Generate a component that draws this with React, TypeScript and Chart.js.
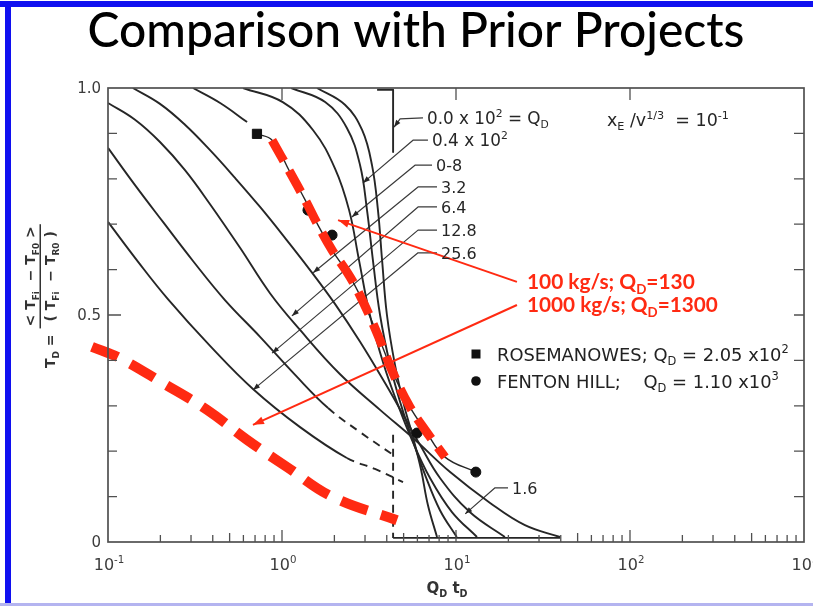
import React, { useEffect, useRef } from "react";
import { Chart, registerables } from "chart.js";
Chart.register(...registerables);

// ---------------- data ----------------
const titleText = "Comparison with Prior Projects";
const xDecadeExponents = [-1, 0, 1, 2, 3];
const yMajorTicks = [0, 0.5, 1];
const yMajorLabels = ["0", "0.5", "1.0"];

// model curves, x = Q_D t_D, y = T_D  (Q_D in units of 10^2)
const q04X = [1.59, 2.3, 2.89, 3.29, 3.56, 3.76, 4.01, 4.46, 5.02, 5.66, 6.3, 6.9, 7.78];
const q04Y = [1.0, 0.963, 0.907, 0.83, 0.731, 0.621, 0.5, 0.39, 0.302, 0.231, 0.159, 0.081, 0.011];
const q08X = [1.13, 1.77, 2.36, 2.81, 3.08, 3.33, 3.66, 4.18, 4.83, 5.58, 6.64, 8.09, 10.1];
const q08Y = [1.0, 0.969, 0.912, 0.83, 0.731, 0.621, 0.5, 0.39, 0.302, 0.229, 0.148, 0.07, 0.011];
const q16X = [0.597, 1.01, 1.51, 2.02, 2.43, 2.77, 3.2, 3.85, 4.64, 5.58, 7.09, 9.48, 13.2];
const q16Y = [1.0, 0.969, 0.907, 0.822, 0.731, 0.621, 0.5, 0.39, 0.302, 0.225, 0.141, 0.066, 0.011];
const q32X = [0.139, 0.199, 0.277, 0.386, 0.537, 0.748, 1.04, 1.45, 2.02, 2.81, 3.91, 5.09, 6.21, 8.09, 12.0, 19.1];
const q32Y = [1.0, 0.965, 0.919, 0.863, 0.802, 0.738, 0.67, 0.599, 0.524, 0.441, 0.35, 0.273, 0.214, 0.141, 0.066, 0.011];
const q64X = [0.1, 0.143, 0.199, 0.277, 0.386, 0.574, 0.853, 1.27, 2.15, 3.66, 5.66, 9.25, 15.7, 24.9, 39.6];
const q64Y = [0.967, 0.93, 0.881, 0.819, 0.744, 0.648, 0.548, 0.467, 0.37, 0.291, 0.229, 0.154, 0.086, 0.037, 0.011];
// curves whose end (from the given index on) is drawn dashed
const q128X = [0.1, 0.143, 0.207, 0.308, 0.47, 0.748, 1.19, 1.84, 2.81, 4.35];
const q128Y = [0.868, 0.786, 0.705, 0.619, 0.533, 0.452, 0.368, 0.295, 0.242, 0.192];
const q128DashFrom = 7;
const q256X = [0.1, 0.149, 0.221, 0.386, 0.681, 1.27, 2.36, 3.42, 4.96];
const q256Y = [0.705, 0.617, 0.535, 0.432, 0.337, 0.253, 0.185, 0.161, 0.132];
const q256DashFrom = 6;
const partialX = [0.308, 0.441, 0.63];
const partialY = [1.0, 0.967, 0.925];
// Q_D = 0 step
const stepTopX = [3.52, 4.35, 4.35];
const stepTopY = [0.996, 0.996, 0.859];
const stepDashX = [4.35, 4.35];
const stepDashY = [0.236, 0.009];
const stepBottomX = [4.35, 39.6];
const stepBottomY = [0.009, 0.009];

// field data
const fieldLineX = [0.718, 0.877, 1.11, 1.36, 1.61, 1.94, 2.46, 2.89, 3.52, 4.35, 5.44, 6.64, 8.65, 13.0];
const fieldLineY = [0.899, 0.885, 0.815, 0.753, 0.698, 0.643, 0.584, 0.533, 0.46, 0.372, 0.297, 0.247, 0.187, 0.154];
const rosemanowesX = [0.718];
const rosemanowesY = [0.899];
const fentonX = [1.41, 1.94, 5.97, 13.0];
const fentonY = [0.731, 0.676, 0.24, 0.154];

// red overlays
const red130X = [0.877, 1.11, 1.36, 1.61, 1.94, 2.46, 2.89, 3.52, 4.35, 5.44, 6.64, 8.65];
const red130Y = [0.885, 0.815, 0.753, 0.698, 0.643, 0.584, 0.533, 0.46, 0.372, 0.297, 0.247, 0.187];
const red1300X = [0.0809, 0.117, 0.207, 0.371, 0.63, 1.07, 1.96, 4.58];
const red1300Y = [0.43, 0.405, 0.35, 0.291, 0.225, 0.165, 0.099, 0.048];
const arrow130X = [22.4, 2.1];
const arrow130Y = [0.573, 0.709];
const arrow1300X = [22.4, 0.681];
const arrow1300Y = [0.522, 0.258];
const redLabels = ["100 kg/s; Q|D|=130", "1000 kg/s; Q|D|=1300"];

// curve label leaders
const leaderLabels = ["0.0", "0.4", "0-8", "3.2", "6.4", "12.8", "25.6", "1.6"];
const leaderX = [
  [6.46, 4.77, 4.41],
  [6.9, 5.66, 2.92],
  [7.28, 5.81, 2.52],
  [7.78, 6.05, 1.51],
  [7.78, 6.05, 1.14],
  [7.78, 6.05, 0.877],
  [7.78, 6.05, 0.681],
  [19.9, 16.7, 11.3],
];
const leaderY = [
  [0.934, 0.932, 0.914],
  [0.885, 0.885, 0.791],
  [0.83, 0.83, 0.716],
  [0.782, 0.782, 0.593],
  [0.738, 0.738, 0.498],
  [0.687, 0.687, 0.416],
  [0.637, 0.637, 0.335],
  [0.119, 0.119, 0.062],
];

// ---------------- helpers ----------------
const pts = (xs: number[], ys: number[]) => xs.map((x, i) => ({ x, y: ys[i] }));
type Part = { t: string; k?: "sup" | "sub" };

function richWidth(ctx: any, parts: Part[], size: number, family: string, weight: string) {
  let w = 0;
  for (const p of parts) {
    const s = p.k ? size * 0.64 : size;
    ctx.font = `${weight} ${s}px ${family}`;
    w += ctx.measureText(p.t).width;
  }
  return w;
}
function drawRich(ctx: any, parts: Part[], x: number, y: number, size: number, family: string, weight: string, color: string) {
  ctx.fillStyle = color;
  ctx.textBaseline = "alphabetic";
  ctx.textAlign = "left";
  let cx = x;
  for (const p of parts) {
    const s = p.k ? size * 0.64 : size;
    ctx.font = `${weight} ${s}px ${family}`;
    const dy = p.k === "sup" ? -size * 0.42 : p.k === "sub" ? size * 0.25 : 0;
    ctx.fillText(p.t, cx, y + dy);
    cx += ctx.measureText(p.t).width;
  }
  return cx - x;
}
function fit(ctx: any, parts: Part[], target: number, family: string, weight: string) {
  return (100 * target) / richWidth(ctx, parts, 100, family, weight);
}
function parseSub(s: string): Part[] {
  const seg = s.split("|");
  return seg.map((t, i) => (i % 2 === 1 ? { t, k: "sub" as const } : { t }));
}
function arrowHead(ctx: any, x1: number, y1: number, x2: number, y2: number, len: number, half: number, color: string) {
  const a = Math.atan2(y2 - y1, x2 - x1);
  ctx.save();
  ctx.fillStyle = color;
  ctx.beginPath();
  ctx.moveTo(x2, y2);
  ctx.lineTo(x2 - len * Math.cos(a) + half * Math.sin(a), y2 - len * Math.sin(a) - half * Math.cos(a));
  ctx.lineTo(x2 - len * Math.cos(a) - half * Math.sin(a), y2 - len * Math.sin(a) + half * Math.cos(a));
  ctx.closePath();
  ctx.fill();
  ctx.restore();
}

const INK = "#262626";
const AXIS = "#505050";
const RED = "#ff2a12";
const FIG_FONT = "'DejaVu Sans'";

const overlay = {
  id: "overlay",
  beforeDraw(chart: any) {
    const ctx = chart.ctx;
    ctx.save();
    ctx.fillStyle = "#ffffff";
    ctx.fillRect(0, 0, chart.width, chart.height);
    // slide frame
    ctx.fillStyle = "#1010f0";
    ctx.fillRect(0, 1, chart.width, 6);
    ctx.fillRect(5, 1, 6, chart.height);
    ctx.fillStyle = "#b4b4f0";
    ctx.fillRect(0, chart.height - 3, chart.width, 3);
    // title
    const tp: Part[] = [{ t: titleText }];
    const ts = fit(ctx, tp, 657, "Lato", "500");
    ctx.font = `500 ${ts}px Lato`;
    ctx.fillStyle = "#000";
    ctx.textAlign = "center";
    ctx.textBaseline = "alphabetic";
    ctx.fillText(titleText, 416, 47);
    ctx.restore();
  },
  afterDatasetsDraw(chart: any) {
    const ctx = chart.ctx;
    const xs = chart.scales.x;
    const ys = chart.scales.y;
    const { left, right, top, bottom } = chart.chartArea;
    const px = (v: number) => xs.getPixelForValue(v);
    const py = (v: number) => ys.getPixelForValue(v);
    ctx.save();
    // frame
    ctx.strokeStyle = AXIS;
    ctx.lineWidth = 1.7;
    ctx.strokeRect(left, top, right - left, bottom - top);
    ctx.lineWidth = 1.3;
    ctx.beginPath();
    for (let i = 1; i < 10; i++) {
      const y = py(i / 10);
      const l = i === 5 ? 13 : 9;
      ctx.moveTo(left, y);
      ctx.lineTo(left + l, y);
      ctx.moveTo(right, y);
      ctx.lineTo(right - 10, y);
    }
    for (let e = -1; e < 3; e++) {
      for (let m = 1; m < 10; m++) {
        const v = m * Math.pow(10, e);
        const x = px(v);
        const l = m === 1 ? 12 : m === 5 ? 9 : 7;
        if (m !== 1 || e > -1) {
          ctx.moveTo(x, bottom);
          ctx.lineTo(x, bottom - l);
        }
      }
    }
    for (const e of [0, 1, 2]) {
      const x = px(Math.pow(10, e));
      ctx.moveTo(x, top);
      ctx.lineTo(x, top + 12);
    }
    ctx.stroke();

    // y tick labels
    ctx.fillStyle = "#3c3c3c";
    ctx.font = `normal 15px ${FIG_FONT}`;
    ctx.textAlign = "right";
    ctx.textBaseline = "middle";
    yMajorTicks.forEach((v, i) => {
      ctx.fillText(yMajorLabels[i], left - 7, py(v) + 1);
    });
    // x tick labels
    xDecadeExponents.forEach((e) => {
      const parts: Part[] = [{ t: "10" }, { t: e < 0 ? "-" + Math.abs(e) : String(e), k: "sup" }];
      const w = richWidth(ctx, parts, 16, FIG_FONT, "normal");
      drawRich(ctx, parts, px(Math.pow(10, e)) - w / 2 + 1, bottom + 28, 16, FIG_FONT, "normal", "#3c3c3c");
    });
    // x axis title
    {
      const parts: Part[] = [{ t: "Q" }, { t: "D", k: "sub" }, { t: " t" }, { t: "D", k: "sub" }];
      const w = richWidth(ctx, parts, 15, FIG_FONT, "bold");
      drawRich(ctx, parts, 447 - w / 2, 593, 15, FIG_FONT, "bold", "#333");
    }
    // y axis title (rotated)
    {
      ctx.save();
      ctx.translate(40, 368);
      ctx.rotate(-Math.PI / 2);
      const fs = 14;
      const w = drawRich(ctx, [{ t: "T" }, { t: "D", k: "sub" }, { t: " =" }], 0, 15, fs, FIG_FONT, "bold", "#333");
      const u0 = w + 6;
      const num: Part[] = [{ t: "< T" }, { t: "Fi", k: "sub" }, { t: "  − T" }, { t: "F0", k: "sub" }, { t: " >" }];
      const den: Part[] = [{ t: "( T" }, { t: "Fi", k: "sub" }, { t: "  − T" }, { t: "R0", k: "sub" }, { t: " )" }];
      const nw = richWidth(ctx, num, fs, FIG_FONT, "bold");
      const dw = richWidth(ctx, den, fs, FIG_FONT, "bold");
      const fw = Math.max(nw, dw) + 4;
      drawRich(ctx, num, u0 + (fw - nw) / 2, -5, fs, FIG_FONT, "bold", "#333");
      ctx.fillStyle = "#333";
      ctx.fillRect(u0, -0.5, fw, 1.5);
      drawRich(ctx, den, u0 + (fw - dw) / 2, 15, fs, FIG_FONT, "bold", "#333");
      ctx.restore();
    }

    // leader labels + arrowheads
    leaderLabels.forEach((lab, i) => {
      const lx = leaderX[i];
      const ly = leaderY[i];
      const n = lx.length;
      arrowHead(ctx, px(lx[n - 2]), py(ly[n - 2]), px(lx[n - 1]), py(ly[n - 1]), 7, 2.6, INK);
      let parts: Part[] = [{ t: lab }];
      let size = 16;
      if (i === 0) {
        parts = [{ t: "0.0 x 10" }, { t: "2", k: "sup" }, { t: " = Q" }, { t: "D", k: "sub" }];
        size = fit(ctx, parts, 122, FIG_FONT, "normal");
      } else if (i === 1) {
        parts = [{ t: "0.4 x 10" }, { t: "2", k: "sup" }];
        size = fit(ctx, parts, 76, FIG_FONT, "normal");
      }
      drawRich(ctx, parts, px(lx[0]) + 4, py(ly[0]) + 6, size, FIG_FONT, "normal", INK);
    });
    // parameter note
    {
      const parts: Part[] = [
        { t: "x" },
        { t: "E", k: "sub" },
        { t: " /v" },
        { t: "1/3", k: "sup" },
        { t: "  = 10" },
        { t: "-1", k: "sup" },
      ];
      const s = fit(ctx, parts, 122, FIG_FONT, "normal");
      drawRich(ctx, parts, 607, 126, s, FIG_FONT, "normal", INK);
    }
    // field legend
    {
      ctx.fillStyle = "#111";
      ctx.fillRect(471.5, 349.5, 9, 9);
      ctx.beginPath();
      ctx.arc(476, 381, 4.8, 0, Math.PI * 2);
      ctx.fill();
      const r: Part[] = [{ t: "ROSEMANOWES; Q" }, { t: "D", k: "sub" }, { t: " = 2.05 x10" }, { t: "2", k: "sup" }];
      const f: Part[] = [{ t: "FENTON HILL;    Q" }, { t: "D", k: "sub" }, { t: " = 1.10 x10" }, { t: "3", k: "sup" }];
      const s1 = fit(ctx, r, 292, FIG_FONT, "normal");
      drawRich(ctx, r, 497, 361, s1, FIG_FONT, "normal", "#222");
      drawRich(ctx, f, 497, 388, s1, FIG_FONT, "normal", "#222");
    }
    // red arrows + labels
    [
      [arrow130X, arrow130Y],
      [arrow1300X, arrow1300Y],
    ].forEach(([ax, ay], i) => {
      arrowHead(ctx, px(ax[0]), py(ay[0]), px(ax[1]), py(ay[1]), 11, 4, RED);
      const parts = parseSub(redLabels[i]);
      const target = i === 0 ? 168 : 191;
      const s = fit(ctx, parts, target, "Lato", "bold");
      drawRich(ctx, parts, px(ax[0]) + 10, py(ay[0]) + 7, s, "Lato", "bold", RED);
    });
    ctx.restore();
  },
};

export default function App() {
  const ref = useRef<HTMLCanvasElement | null>(null);
  useEffect(() => {
    if (!ref.current) return;
    const line = (xs: number[], ys: number[], extra: any = {}) => ({
      data: pts(xs, ys),
      borderColor: INK,
      borderWidth: 1.9,
      pointRadius: 0,
      pointHoverRadius: 0,
      fill: false,
      tension: 0.4,
      borderJoinStyle: "round",
      ...extra,
    });
    const dashAfter = (k: number) => ({
      segment: { borderDash: (c: any) => (c.p0DataIndex >= k ? [8, 6] : undefined) },
    });
    const straight = { tension: 0 };
    const datasets: any[] = [
      line(red130X, red130Y, { borderColor: RED, borderWidth: 9, borderDash: [24, 11], borderCapStyle: "butt" }),
      line(red1300X, red1300Y, { borderColor: RED, borderWidth: 10, borderDash: [28, 14], borderCapStyle: "butt", clip: false }),
      line(arrow130X, arrow130Y, { borderColor: RED, borderWidth: 2, ...straight }),
      line(arrow1300X, arrow1300Y, { borderColor: RED, borderWidth: 2, ...straight }),
      {
        data: pts(rosemanowesX, rosemanowesY),
        showLine: false,
        pointStyle: "rect",
        pointRadius: 6.5,
        backgroundColor: "#111",
        borderColor: "#111",
      },
      {
        data: pts(fentonX, fentonY),
        showLine: false,
        pointStyle: "circle",
        pointRadius: 5,
        backgroundColor: "#111",
        borderColor: "#111",
      },
      line(fieldLineX, fieldLineY, { borderWidth: 1.4 }),
      line(q04X, q04Y),
      line(q08X, q08Y),
      line(q16X, q16Y),
      line(q32X, q32Y),
      line(q64X, q64Y),
      line(q128X, q128Y, dashAfter(q128DashFrom)),
      line(q256X, q256Y, dashAfter(q256DashFrom)),
      line(partialX, partialY),
      line(stepTopX, stepTopY, straight),
      line(stepDashX, stepDashY, { ...straight, borderDash: [8, 6] }),
      line(stepBottomX, stepBottomY, straight),
      ...leaderX.map((lx, i) =>
        line(lx, leaderY[i], { borderWidth: 1.2, ...straight, borderColor: "#3a3a3a" })
      ),
    ];
    const chart = new Chart(ref.current, {
      type: "line",
      data: { datasets },
      options: {
        animation: false,
        responsive: false,
        maintainAspectRatio: false,
        devicePixelRatio: 1,
        layout: { padding: { left: 108, right: 9, top: 88, bottom: 64 } },
        plugins: { legend: { display: false }, tooltip: { enabled: false }, title: { display: false } },
        events: [],
        scales: {
          x: { type: "logarithmic", min: 0.1, max: 1000, display: false },
          y: { type: "linear", min: 0, max: 1, display: false },
        },
      },
      plugins: [overlay],
    } as any);
    return () => chart.destroy();
  }, []);
  return (
    <div style={{ position: "absolute", left: 0, top: 0, width: 813, height: 606 }}>
      <canvas ref={ref} width={813} height={606} style={{ display: "block", width: 813, height: 606 }} />
    </div>
  );
}
